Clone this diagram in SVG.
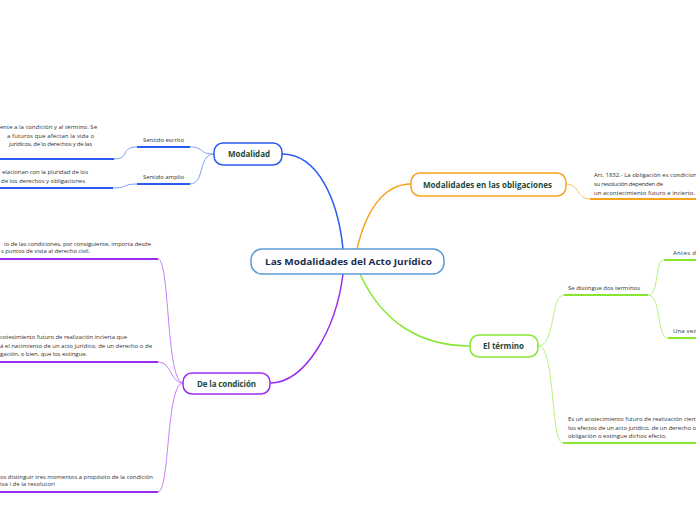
<svg xmlns="http://www.w3.org/2000/svg" width="696" height="520" viewBox="0 0 696 520">
<style>
.node{fill:#fff;stroke-width:1.5}
.lbl{font-family:"Open Sans",sans-serif;font-weight:bold;font-size:8px;fill:#1d4a3a;text-anchor:middle}
.txt{font-family:"Open Sans",sans-serif;font-size:6px;fill:#333}
.c{fill:none}
</style>
<rect width="696" height="520" fill="#fff"/>
<g id="connectors">
  <path class="c" d="M282,154 C318,154 338,200 343,249" stroke="#2a5cf0" stroke-width="1.5"/>
  <path class="c" d="M357,249 C366,210 384,184 411,184" stroke="#f7a21b" stroke-width="1.5"/>
  <path class="c" d="M270,383 C305,383 336,330 343,274" stroke="#9a2cf0" stroke-width="1.5"/>
  <path class="c" d="M360,274 C382,322 420,346 470,346" stroke="#88e633" stroke-width="1.5"/>
  <path class="c" d="M214,154 C198,154 205,147 190,147" stroke="#7f9ff5" stroke-width="1"/>
  <path class="c" d="M214,154 C198,154 205,184 190,184" stroke="#7f9ff5" stroke-width="1"/>
  <path class="c" d="M137,147 C120,147 130,159 114,159" stroke="#7f9ff5" stroke-width="1"/>
  <path class="c" d="M137,184 C122,184 128,188 113,188" stroke="#7f9ff5" stroke-width="1"/>
  <line x1="137" y1="147" x2="190" y2="147" stroke="#2a5cf0" stroke-width="2"/>
  <line x1="137" y1="184" x2="190" y2="184" stroke="#2a5cf0" stroke-width="2"/>
  <line x1="0" y1="159" x2="114" y2="159" stroke="#2a5cf0" stroke-width="2"/>
  <line x1="0" y1="188" x2="113" y2="188" stroke="#2a5cf0" stroke-width="2"/>
  <path class="c" d="M566,184 C580,184 576,199 590,199" stroke="#fbc46a" stroke-width="1"/>
  <line x1="590" y1="199" x2="696" y2="199" stroke="#f7a21b" stroke-width="2"/>
  <path class="c" d="M183,383 C166,383 170,259 158,259" stroke="#c77dfa" stroke-width="1"/>
  <path class="c" d="M183,383 C170,383 172,362 158,362" stroke="#c77dfa" stroke-width="1"/>
  <path class="c" d="M183,383 C166,383 170,492 158,492" stroke="#c77dfa" stroke-width="1"/>
  <line x1="0" y1="259" x2="158" y2="259" stroke="#9a2cf0" stroke-width="2"/>
  <line x1="0" y1="362" x2="158" y2="362" stroke="#9a2cf0" stroke-width="2"/>
  <line x1="0" y1="492" x2="158" y2="492" stroke="#9a2cf0" stroke-width="2"/>
  <path class="c" d="M538,346 C556,346 550,295 564,295" stroke="#b8f080" stroke-width="1"/>
  <path class="c" d="M538,346 C556,346 550,443 563,443" stroke="#b8f080" stroke-width="1"/>
  <path class="c" d="M648,295 C660,295 654,260 664,260" stroke="#b8f080" stroke-width="1"/>
  <path class="c" d="M648,295 C662,295 656,338 668,338" stroke="#b8f080" stroke-width="1"/>
  <line x1="564" y1="295" x2="648" y2="295" stroke="#88e633" stroke-width="2"/>
  <line x1="563" y1="443" x2="696" y2="443" stroke="#88e633" stroke-width="2"/>
  <line x1="664" y1="260" x2="696" y2="260" stroke="#88e633" stroke-width="2"/>
  <line x1="668" y1="338" x2="696" y2="338" stroke="#88e633" stroke-width="2"/>
</g>
<g id="center">
  <rect class="node" x="251" y="249" width="193" height="25" rx="11" stroke="#5b9bd5"/>
  <text class="lbl" x="348.5" y="264.5" textLength="167" lengthAdjust="spacingAndGlyphs" style="font-size:9px;fill:#1b2e52">Las Modalidades del Acto Jurídico</text>
</g>
<g id="modalidad">
  <rect class="node" x="214" y="143" width="68" height="22" rx="9" stroke="#2a5cf0"/>
  <text class="lbl" x="249" y="157" textLength="42">Modalidad</text>
</g>
<g id="obligaciones">
  <rect class="node" x="411" y="173" width="155" height="23" rx="9" stroke="#f7a21b"/>
  <text class="lbl" x="487.5" y="187.5" textLength="129">Modalidades en las obligaciones</text>
</g>
<g id="condicion">
  <rect class="node" x="183" y="373" width="87" height="21" rx="9" stroke="#9a2cf0"/>
  <text class="lbl" x="226.5" y="386.5" textLength="59">De la condición</text>
</g>
<g id="termino">
  <rect class="node" x="470" y="335" width="68" height="22" rx="9" stroke="#88e633"/>
  <text class="lbl" x="503.5" y="349" textLength="41">El término</text>
</g>
<g id="sentido-escrito">
  <text class="txt" x="143" y="142" textLength="41">Sentido escrito</text>
</g>
<g id="sentido-amplio">
  <text class="txt" x="143" y="179" textLength="41">Sentido amplio</text>
</g>
<g id="texto-escrito">
  <text class="txt" x="0" y="129" textLength="97">ente a la condición y al término. Se</text>
  <text class="txt" x="7" y="138" textLength="87">a futuros que afectan la vida o</text>
  <text class="txt" x="9" y="146" textLength="83">jurídicos, de lo derechos y de las</text>
</g>
<g id="texto-amplio">
  <text class="txt" x="2" y="174" textLength="86">elacionan con la pluridad de los</text>
  <text class="txt" x="1" y="183" textLength="84">de los derechos y obligaciones</text>
</g>
<g id="texto-art">
  <text class="txt" x="594" y="177" textLength="103">Art. 1832.- La obligación es condicion</text>
  <text class="txt" x="594" y="186" textLength="69">su resolución dependen de</text>
  <text class="txt" x="594" y="195" textLength="101">un acontecimiento futuro e incierto.</text>
</g>
<g id="cond-1">
  <text class="txt" x="4" y="246" textLength="147">io de las condiciones, por consiguiente, importa desde</text>
  <text class="txt" x="1" y="253" textLength="89">s puntos de vista al derecho civil.</text>
</g>
<g id="cond-2">
  <text class="txt" x="0" y="339" textLength="127">cotesimiento futuro de realización incierta que</text>
  <text class="txt" x="0" y="348" textLength="152">á el nacimiento de un acto jurídico, de un derecho o de</text>
  <text class="txt" x="0" y="356" textLength="87">gación, o bien, que los extingue.</text>
</g>
<g id="cond-3">
  <text class="txt" x="0" y="479" textLength="153">os distinguir tres momentos a propósito de la condición</text>
  <text class="txt" x="0" y="486" textLength="55">iva i de la resolutori</text>
</g>
<g id="distingue">
  <text class="txt" x="568" y="290" textLength="72">Se distingue dos terminos</text>
</g>
<g id="antes">
  <text class="txt" x="673" y="255" textLength="23">Antes d</text>
</g>
<g id="una-vez">
  <text class="txt" x="673" y="333" textLength="23">Una vez</text>
</g>
<g id="termino-def">
  <text class="txt" x="568" y="421" textLength="128">Es un acotecimiento futuro de realización ciert</text>
  <text class="txt" x="568" y="430" textLength="128">los efectos de un acto jurídico, de un derecho o</text>
  <text class="txt" x="568" y="438" textLength="99">obligación o extingue dichos efecto.</text>
</g>
</svg>
